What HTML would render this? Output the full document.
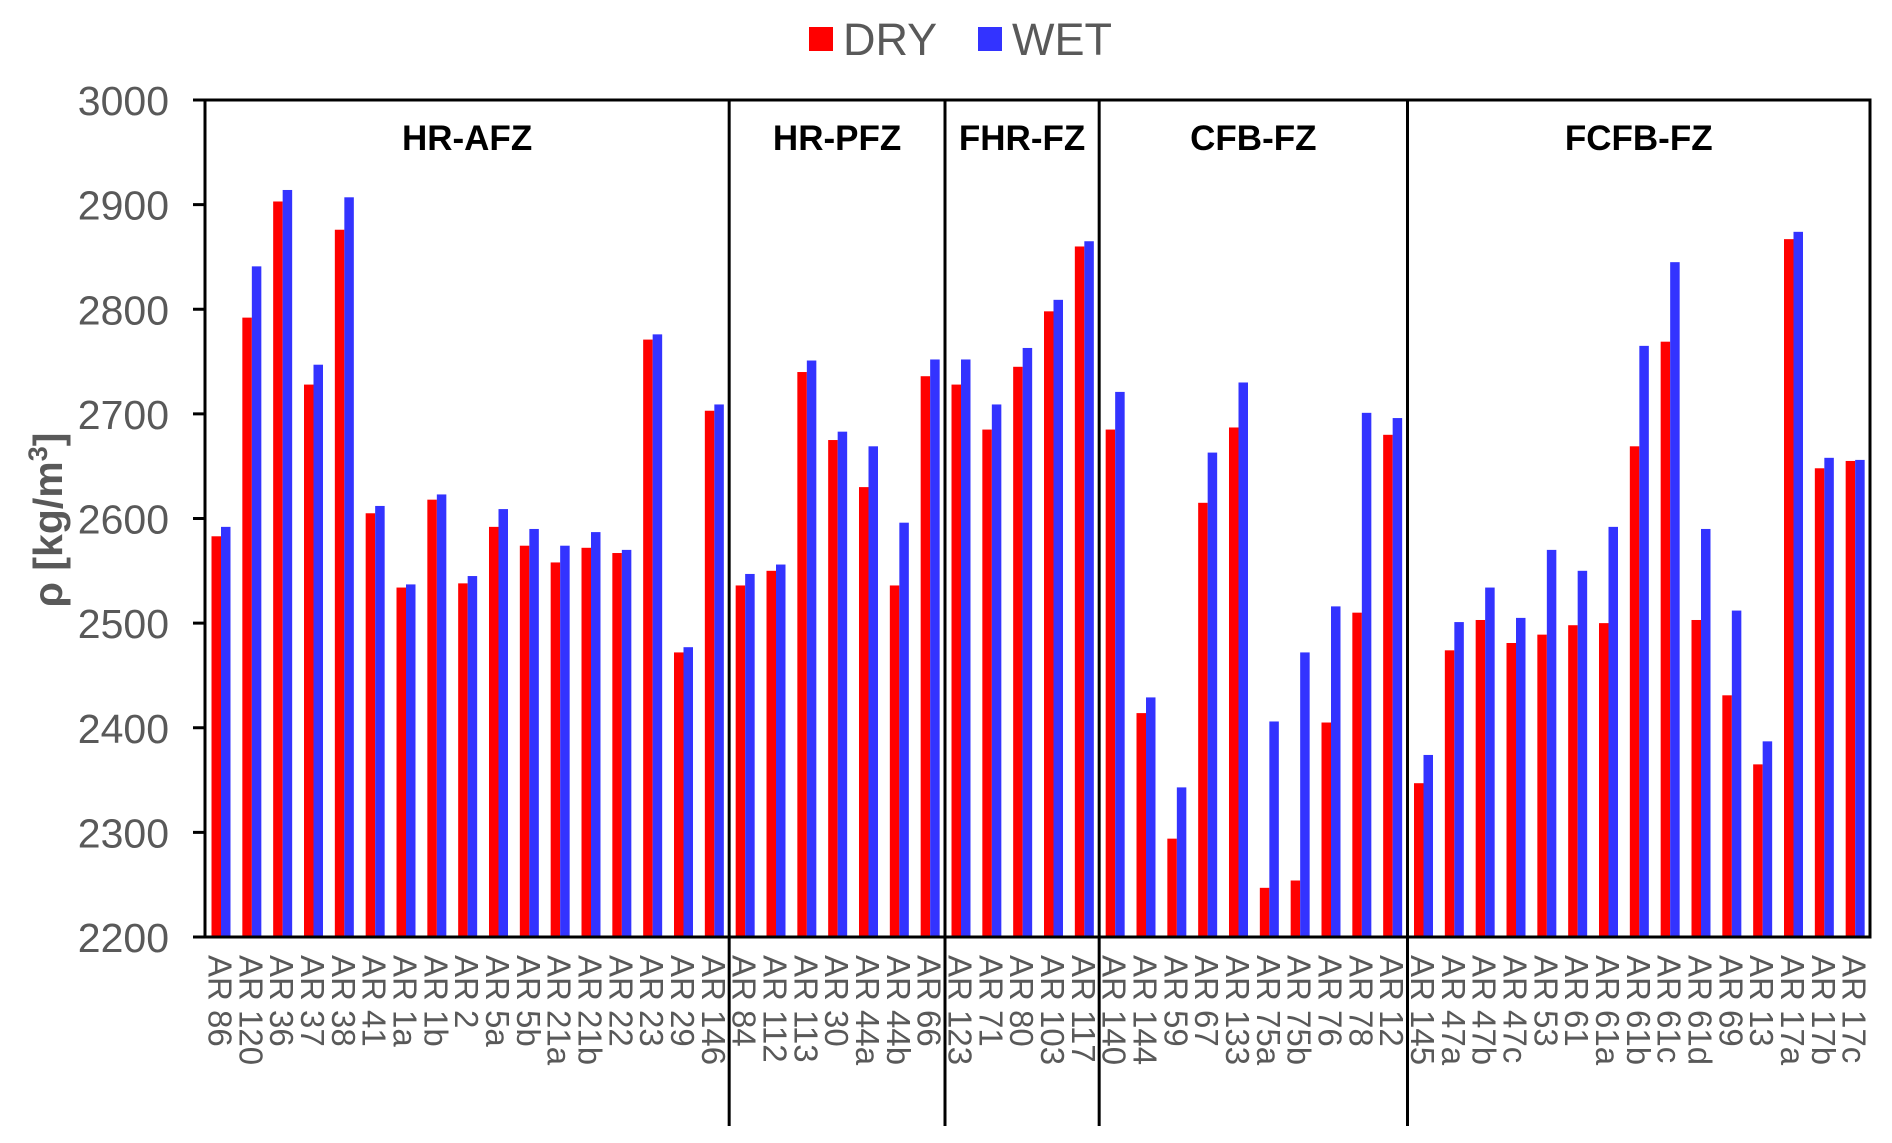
<!DOCTYPE html>
<html><head><meta charset="utf-8"><style>
html,body{margin:0;padding:0;background:#fff;}
svg{display:block;font-family:"Liberation Sans",Arial,sans-serif;}
</style></head><body>
<svg id="chart" width="1892" height="1143" viewBox="0 0 1892 1143">
<g id="legend">
  <rect x="809" y="27" width="24" height="24" fill="#ff0000"/>
  <text x="843" y="55" font-size="45" fill="#595959">DRY</text>
  <rect x="978" y="27" width="24" height="24" fill="#3333ff"/>
  <text x="1012" y="55" font-size="45" fill="#595959">WET</text>
</g>
<text transform="translate(62,520) rotate(-90)" text-anchor="middle" font-size="41" font-weight="bold" fill="#595959">ρ [kg/m<tspan font-size="27" dy="-15">3</tspan><tspan dy="15">]</tspan></text>
<g id="bars"></g>
<g id="axes"></g>
</svg>
<script>
const categories = ["AR 86","AR 120","AR 36","AR 37","AR 38","AR 41","AR 1a","AR 1b","AR 2","AR 5a","AR 5b","AR 21a","AR 21b","AR 22","AR 23","AR 29","AR 146",
"AR 84","AR 112","AR 113","AR 30","AR 44a","AR 44b","AR 66",
"AR 123","AR 71","AR 80","AR 103","AR 117",
"AR 140","AR 144","AR 59","AR 67","AR 133","AR 75a","AR 75b","AR 76","AR 78","AR 12",
"AR 145","AR 47a","AR 47b","AR 47c","AR 53","AR 61","AR 61a","AR 61b","AR 61c","AR 61d","AR 69","AR 13","AR 17a","AR 17b","AR 17c"];
const dryValues = [2583,2792,2903,2728,2876,2605,2534,2618,2538,2592,2574,2558,2572,2567,2771,2472,2703,
2536,2550,2740,2675,2630,2536,2736,
2728,2685,2745,2798,2860,
2685,2414,2294,2615,2687,2247,2254,2405,2510,2680,
2347,2474,2503,2481,2489,2498,2500,2669,2769,2503,2431,2365,2867,2648,2655];
const wetValues = [2592,2841,2914,2747,2907,2612,2537,2623,2545,2609,2590,2574,2587,2570,2776,2477,2709,
2547,2556,2751,2683,2669,2596,2752,
2752,2709,2763,2809,2865,
2721,2429,2343,2663,2730,2406,2472,2516,2701,2696,
2374,2501,2534,2505,2570,2550,2592,2765,2845,2590,2512,2387,2874,2658,2656];
const groupNames = ["HR-AFZ","HR-PFZ","FHR-FZ","CFB-FZ","FCFB-FZ"];
const groupSizes = [17,7,5,10,15];
const yTicks = [2200,2300,2400,2500,2600,2700,2800,2900,3000];

const NS="http://www.w3.org/2000/svg";
const L=205,R=1870,T=100,B=937,yMin=2200,yMax=3000;
const step=(R-L)/categories.length;
function xPos(i){return L+i*step;}
function yPos(v){return B-(v-yMin)/(yMax-yMin)*(B-T);}
function mk(tag,attrs,parent){const e=document.createElementNS(NS,tag);for(const k in attrs)e.setAttribute(k,attrs[k]);parent.appendChild(e);return e;}
const bars=document.getElementById('bars'),axes=document.getElementById('axes');
const bw=9.5,off=6.5;
categories.forEach((c,i)=>{
  const x=xPos(i);
  const r=mk('rect',{x:x+off,y:yPos(dryValues[i]),width:bw,height:B-yPos(dryValues[i]),fill:'#ff0000'},bars);
  
  
  const b=mk('rect',{x:x+off+bw,y:yPos(wetValues[i]),width:bw,height:B-yPos(wetValues[i]),fill:'#3333ff'},bars);
  
  
  const t=mk('text',{transform:`translate(${x+step/2-12},955) rotate(90)`,'font-size':'33',fill:'#595959'},axes);
  t.textContent=c;
  
  
});
yTicks.forEach(v=>{
  const y=yPos(v);
  const l=mk('line',{x1:193,x2:L,y1:y,y2:y,stroke:'#000','stroke-width':3},axes);
  
  
  const t=mk('text',{x:169,y:y+15,'text-anchor':'end','font-size':'41',fill:'#595959'},axes);
  t.textContent=v;
  
  
});
const frame=mk('rect',{x:L,y:T,width:R-L,height:B-T,fill:'none',stroke:'#000','stroke-width':3},axes);


let start=0;
groupNames.forEach((g,gi)=>{
  const end=start+groupSizes[gi];
  const t=mk('text',{x:(xPos(start)+xPos(end))/2,y:150,'text-anchor':'middle','font-size':'35','font-weight':'bold',fill:'#000'},axes);
  t.textContent=g;
  
  
  if(gi<groupNames.length-1){
    const l=mk('line',{x1:xPos(end),x2:xPos(end),y1:T,y2:1126,stroke:'#000','stroke-width':3},axes);
    
    
  }
  start=end;
});
</script>
</body></html>
